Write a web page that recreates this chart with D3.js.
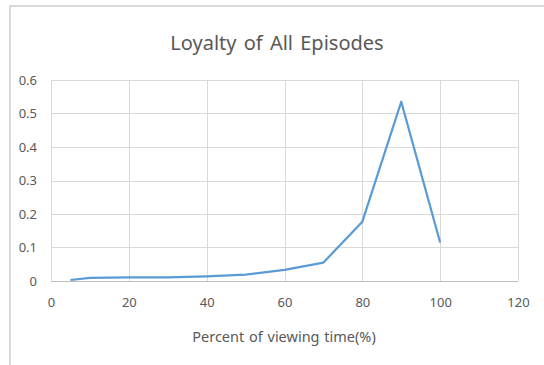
<!DOCTYPE html>
<html>
<head>
<meta charset="utf-8">
<script src="https://cdn.jsdelivr.net/npm/d3@7"></script>
<style>
  body { margin: 0; background: #fff; }
  text { font-family: "Noto Sans", "Open Sans", sans-serif; fill: #595959; }
</style>
</head>
<body>
<svg width="544" height="365"></svg>
<script>
var percent = [5, 10, 20, 30, 40, 50, 60, 70, 80, 90, 100],
  loyalty = [0.003, 0.009, 0.011, 0.011, 0.014, 0.019, 0.033, 0.055, 0.177, 0.535, 0.115],
  xTicks = [0, 20, 40, 60, 80, 100, 120],
  yTicks = [0, 0.1, 0.2, 0.3, 0.4, 0.5, 0.6];

var svg = d3.select("svg"),
  margin = {left: 51, right: 26, top: 80, bottom: 84},
  width = 544 - margin.left - margin.right,
  height = 365 - margin.top - margin.bottom;

// chart area frame (only top and left edges visible in the crop)
svg.append("path")
  .attr("d", "M10,365V6H544")
  .attr("fill", "none")
  .attr("stroke", "#d9d9d9")
  .attr("stroke-width", 2);

var x = d3.scaleLinear().domain([0, 120]).range([0, width]),
  y = d3.scaleLinear().domain([0, 0.6]).range([height, 0]);

var g = svg.append("g")
  .attr("transform", "translate(" + margin.left + "," + margin.top + ")");

// gridlines
g.selectAll(".hgrid")
  .data(yTicks)
  .enter().append("line")
    .attr("x1", 0)
    .attr("x2", width)
    .attr("y1", function(d) { return Math.round(y(d)) + 0.5; })
    .attr("y2", function(d) { return Math.round(y(d)) + 0.5; })
    .attr("stroke", "#d9d9d9");

g.selectAll(".vgrid")
  .data(xTicks)
  .enter().append("line")
    .attr("x1", function(d) { return Math.round(x(d)) + 0.5; })
    .attr("x2", function(d) { return Math.round(x(d)) + 0.5; })
    .attr("y1", 0)
    .attr("y2", height)
    .attr("stroke", "#d9d9d9");

// axis line
g.append("line")
  .attr("x1", 0).attr("x2", width)
  .attr("y1", height + 0.5).attr("y2", height + 0.5)
  .attr("stroke", "#bfbfbf");

// axes, text only
var xAxis = g.append("g")
  .attr("transform", "translate(0," + height + ")")
  .call(d3.axisBottom(x).tickValues(xTicks).tickSize(0).tickPadding(17));
var yAxis = g.append("g")
  .call(d3.axisLeft(y).tickValues(yTicks).tickSize(0).tickPadding(14)
    .tickFormat(function(d) { return d === 0 ? "0" : d3.format(".1f")(d); }));

[xAxis, yAxis].forEach(function(a) {
  a.select(".domain").remove();
  a.selectAll("text")
    .style("font-size", "13px")
    .attr("fill", "#595959");
});

// the series
var line = d3.line()
  .x(function(d, i) { return x(percent[i]); })
  .y(function(d) { return y(d); });

g.append("path")
  .datum(loyalty)
  .attr("fill", "none")
  .attr("stroke", "#5b9bd5")
  .attr("stroke-width", 2.25)
  .attr("stroke-linejoin", "round")
  .attr("d", line);

// title and axis label
svg.append("text")
  .attr("x", 277)
  .attr("y", 50)
  .attr("text-anchor", "middle")
  .style("font-size", "20px")
  .style("word-spacing", "2px")
  .text("Loyalty of All Episodes");

svg.append("text")
  .attr("x", 284)
  .attr("y", 342)
  .attr("text-anchor", "middle")
  .style("font-size", "14.5px")
  .style("word-spacing", "1px")
  .text("Percent of viewing time(%)");
</script>
</body>
</html>
